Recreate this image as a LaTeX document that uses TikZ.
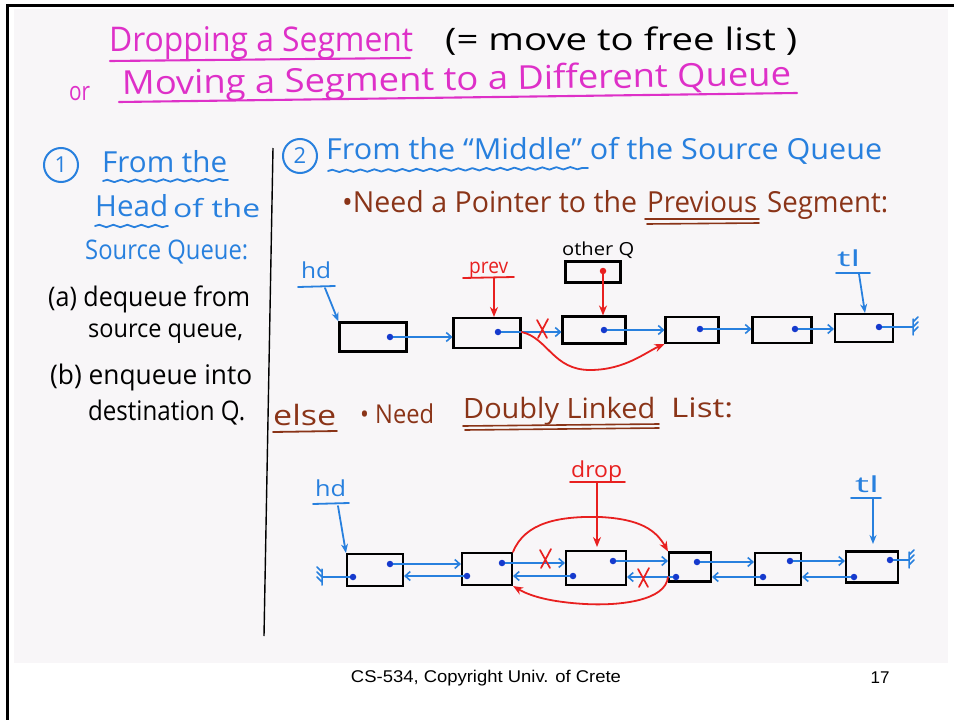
\documentclass[tikz,border=0pt]{standalone}
\usepackage{fontspec}
\usepackage{graphicx}
\setmainfont{Open Sans}
\newfontfamily\footfont{Liberation Sans}
\usetikzlibrary{arrows.meta,decorations.pathmorphing,calc}

\definecolor{inkpink}{RGB}{222,48,200}
\definecolor{inkblue}{RGB}{40,128,222}
\definecolor{inkbrown}{RGB}{138,52,24}
\definecolor{inkred}{RGB}{232,32,32}
\definecolor{dotblue}{RGB}{22,58,205}
\definecolor{slidebg}{RGB}{248,246,248}

% text of a given width (pt) and font size
\newcommand\hw[3]{\resizebox{#1pt}{\height}{\fontsize{#2}{#2}\selectfont #3}}

\tikzset{
  txt/.style={inner sep=0pt, anchor=base west},
  ink/.style={line width=2.1pt, line cap=round, line join=round},
  seg/.style={draw=black, line width=2.1pt, rectangle, inner sep=0pt},
  dot/.style={circle, fill=dotblue, inner sep=0pt, minimum size=6.5pt},
  link/.style={inkblue, line width=1.8pt, line cap=round,
    -{Straight Barb[length=5pt,width=9pt,line width=1.6pt]}},
  bptr/.style={inkblue, line width=1.8pt, line cap=round,
    -{Stealth[length=9pt,width=7pt]}},
  rptr/.style={inkred, line width=1.8pt, line cap=round,
    -{Stealth[length=10pt,width=8pt]}},
  num/.style={circle, draw=inkblue, line width=2pt, minimum size=34pt,
    inner sep=0pt, text=inkblue},
  wavy/.style={decorate, decoration={snake, amplitude=1.2pt, segment length=14pt}},
  earth/.pic={\draw[inkblue, line width=1.5pt, line cap=round]
     (0,-8) -- (0,8) (0,-5) -- (5,-10) (0,0) -- (5,-5) (0,5) -- (5,0);},
}
\newcommand\redx[1]{\draw[inkred, line width=1.7pt, line cap=round]
  ($(#1)+(-5,-9)$) -- ($(#1)+(5,9)$) ($(#1)+(6,-10)$) -- ($(#1)+(-4,9)$);}

\begin{document}
\begin{tikzpicture}[x=1pt, y=-1pt]
\useasboundingbox (0,0) rectangle (954,720);
\fill[white] (0,0) rectangle (954,720);
\fill[slidebg] (14,9) rectangle (948,663);
\draw[line width=3pt] (7,720) -- (7,5) -- (954,5);

% ---------- title ----------
\node[txt, text=inkpink] (t1) at (109,52) {\hw{304}{34}{Dropping a Segment}};
\draw[ink, inkpink] (110,61) -- (410,58);
\node[txt] (t2) at (445,51) {\hw{352}{31}{(= move to free list )}};
\node[txt, text=inkpink] (t3) at (69,100) {\hw{21}{26}{or}};
\node[txt, text=inkpink, rotate=0.8] (t4) at (122,95) {\hw{669}{33}{Moving a Segment to a Different Queue}};
\draw[ink, inkpink] (119,102) -- (797,93);

% ---------- case 1 ----------
\node[num] (c1) at (61,165) {\fontsize{22}{22}\selectfont 1};
\node[txt, text=inkblue] (h1) at (102,172) {\hw{125}{29}{From the}};
\draw[ink, inkblue, line width=1.8pt, wavy] (103,181) -- (228,180);
\node[txt, text=inkblue] (h2) at (95,216) {\hw{73}{29}{Head}};
\draw[ink, inkblue, line width=1.8pt, wavy] (95,226) -- (168,226);
\node[txt, text=inkblue] (h3) at (173,217) {\hw{87}{25}{of the}};
\node[txt, text=inkblue] (h4) at (85,259) {\hw{163}{27}{Source Queue:}};
\node[txt] (a1) at (48,306) {\hw{202}{27}{(a) dequeue from}};
\node[txt] (a2) at (88,337) {\hw{155}{25}{source queue,}};
\node[txt] (a3) at (50,384) {\hw{202}{27}{(b) enqueue into}};
\node[txt] (a4) at (88,420) {\hw{157}{27}{destination Q.}};

% column divider
\draw[line width=1.4pt] (273,148) -- (264,636);

% ---------- case 2 ----------
\node[num] (c2) at (300,156) {\fontsize{22}{22}\selectfont 2};
\node[txt, text=inkblue] (m1) at (326,159) {\hw{556}{29}{From the “Middle” of the Source Queue}};
\draw[ink, inkblue, line width=1.8pt, wavy] (328,171) -- (588,168);

\node[txt, text=inkbrown] (n1) at (342,212) {\hw{295}{29}{\textbullet Need a Pointer to the}};
\node[txt, text=inkbrown] (n2) at (647,212) {\hw{110}{29}{Previous}};
\node[txt, text=inkbrown] (n3) at (767,212) {\hw{121}{29}{Segment:}};
\draw[ink, inkbrown, line width=1.6pt] (645,219) -- (759,219) (647,224) -- (759,223);

% singly linked list
\node[seg, minimum width=67pt, minimum height=29pt] (p1) at (373,337) {};
\node[seg, minimum width=67pt, minimum height=30pt] (p2) at (487,333) {};
\node[seg, minimum width=63pt, minimum height=27pt] (p3) at (594,330) {};
\node[seg, minimum width=53pt, minimum height=26pt] (p4) at (692,330) {};
\node[seg, minimum width=59pt, minimum height=26pt] (p5) at (782,330) {};
\node[seg, minimum width=58pt, minimum height=28pt] (p6) at (864,328) {};
\node[seg, minimum width=55pt, minimum height=21pt] (oq) at (593,272) {};

\node[dot] (pd1) at (390,337) {};
\node[dot] (pd2) at (498,332) {};
\node[dot] (pd3) at (604,330) {};
\node[dot] (pd4) at (700,329) {};
\node[dot] (pd5) at (795,329) {};
\node[dot] (pd6) at (879,327) {};
\node[dot, fill=inkred] (oqd) at (603,271) {};
\coordinate (pg) at (913,327);

\draw[link] (pd1) -- (pd1 -| p2.west);
\draw[link] (pd2) -- (pd2 -| p3.west);
\draw[link] (pd3) -- (pd3 -| p4.west);
\draw[link] (pd4) -- (pd4 -| p5.west);
\draw[link] (pd5) -- (pd5 -| p6.west);
\draw[inkblue, line width=1.8pt] (pd6) -- (pg);
\pic at (pg) {earth};
\redx{542,329}

% labels of the singly linked list
\node[txt, text=inkblue] (hd1) at (301,278) {\hw{30}{22}{hd}};
\draw[ink, inkblue, line width=1.8pt] (298,287) -- (335,286);
\draw[bptr] (325,288) -- (p1.north west);
\node[txt, text=inkred] (pv) at (469,273) {\hw{39}{21}{prev}};
\draw[ink, inkred, line width=1.8pt] (463,278) -- (514,277);
\coordinate (pvx) at (494,278);
\draw[rptr] (pvx) -- (pvx |- p2.north);
\node[txt] (oql) at (562,255) {\hw{72}{18}{other Q}};
\draw[rptr] (oqd) -- (oqd |- p3.north);
\node[txt, text=inkblue] (tl1) at (837,266) {\hw{23}{22}{tl}};
\draw[ink, inkblue, line width=1.8pt] (836,273) -- (870,273);
\coordinate (tlx) at (859,274);
\draw[bptr] (tlx) -- (865,313);

% unlink prev's successor
\draw[rptr] (p2.east |- pd2) .. controls (548,338) and (553,370) .. (590,370)
   .. controls (625,370) and (646,352) .. (p4.south west);

% ---------- else: doubly linked ----------
\node[txt, text=inkbrown] (e1) at (273,425) {\hw{63}{28}{else}};
\draw[ink, inkbrown, line width=1.8pt] (273,432) -- (337,431);
\node[txt, text=inkbrown] (e2) at (360,423) {\hw{74}{26}{\textbullet\ Need}};
\node[txt, text=inkbrown] (e3) at (463,418) {\hw{192}{28}{Doubly Linked}};
\draw[ink, inkbrown, line width=1.6pt] (463,426) -- (659,424) (465,430) -- (659,428);
\node[txt, text=inkbrown] (e4) at (671,417) {\hw{62}{27}{List:}};

\node[seg, minimum width=56pt, minimum height=32pt] (q1) at (375,570) {};
\node[seg, minimum width=50pt, minimum height=32pt] (q2) at (487,569) {};
\node[seg, minimum width=60pt, minimum height=34pt] (q3) at (596,568) {};
\node[seg, minimum width=42pt, minimum height=29pt] (q4) at (690,567) {};
\node[seg, minimum width=46pt, minimum height=32pt] (q5) at (778,569) {};
\node[seg, minimum width=52pt, minimum height=31pt] (q6) at (872,567) {};

% forward links
\node[dot] (f1) at (390,564) {};
\node[dot] (f2) at (502,563) {};
\node[dot] (f3) at (613,561) {};
\node[dot] (f4) at (697,562) {};
\node[dot] (f5) at (790,561) {};
\node[dot] (f6) at (890,560) {};
\coordinate (fg) at (909,560);
\draw[link] (f1) -- (f1 -| q2.west);
\draw[link] (f2) -- (f2 -| q3.west);
\draw[link] (f3) -- (f3 -| q4.west);
\draw[link] (f4) -- (f4 -| q5.west);
\draw[link] (f5) -- (f5 -| q6.west);
\draw[inkblue, line width=1.8pt] (f6) -- (fg);
\pic at (fg) {earth};

% backward links
\node[dot] (r1) at (353,577) {};
\node[dot] (r2) at (467,576) {};
\node[dot] (r3) at (573,576) {};
\node[dot] (r4) at (676,577) {};
\node[dot] (r5) at (763,577) {};
\node[dot] (r6) at (854,577) {};
\coordinate (rg) at (322,577);
\draw[inkblue, line width=1.8pt] (r1) -- (rg);
\pic[xscale=-1] at (rg) {earth};
\draw[link] (r2) -- (r2 -| q1.east);
\draw[link] (r3) -- (r3 -| q2.east);
\draw[link] (r4) -- (r4 -| q3.east);
\draw[link] (r5) -- (r5 -| q4.east);
\draw[link] (r6) -- (r6 -| q5.east);

\redx{545,559}
\redx{643,578}

% labels of the doubly linked list
\node[txt, text=inkblue] (hd2) at (315,496) {\hw{31}{22}{hd}};
\draw[ink, inkblue, line width=1.8pt] (313,504) -- (349,503);
\coordinate (hdx) at (338,506);
\draw[bptr] (hdx) -- (q1.north west);
\node[txt, text=inkred] (dr) at (571,477) {\hw{51}{22}{drop}};
\draw[ink, inkred, line width=1.8pt] (570,482) -- (625,482);
\coordinate (drx) at (597,483);
\draw[rptr] (drx) -- (597,547);
\node[txt, text=inkblue] (tl2) at (855,492) {\hw{24}{22}{tl}};
\draw[ink, inkblue, line width=1.8pt] (851,498) -- (881,498);
\coordinate (tly) at (873,499);
\draw[bptr] (tly) -- (873,544);

% bypass the dropped segment
\draw[rptr] (q2.north east) .. controls (525,522) and (560,516) .. (600,517)
   .. controls (640,519) and (656,530) .. (q4.north west);
\draw[rptr] (q4.west |- r4) .. controls (666,600) and (622,606) .. (585,604)
   .. controls (550,602) and (530,596) .. (q2.south east);

% ---------- footer ----------
\node[inner sep=0pt, anchor=center] (ft) at (486,678) {\resizebox{270pt}{\height}{\footfont\fontsize{17}{17}\selectfont CS-534, Copyright Univ. of Crete}};
\node[inner sep=0pt, anchor=center] (pg17) at (880,678) {\footfont\fontsize{17}{17}\selectfont 17};
\end{tikzpicture}
\end{document}
